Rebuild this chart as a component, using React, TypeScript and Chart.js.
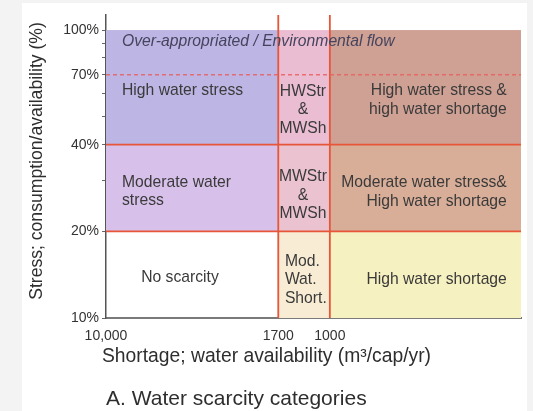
import React, { useEffect, useRef } from 'react';
import { Chart, registerables } from 'chart.js';

Chart.register(...registerables);

// ---- data ----
const xBreaks = [10000, 1700, 1000, 140]; // water availability boundaries (m3/cap/yr)
const yBreaks = [10, 20, 40, 100]; // consumption/availability boundaries (%)
const yTop = 112.8;
const xTickValues = [10000, 1700, 1000];
const xTickLabels = ['10,000', '1700', '1000'];
const yTickValues = [10, 20, 30, 40, 50, 60, 70, 80, 90, 100];
const yTickLabels = ['10%', '20%', '', '40%', '', '', '70%', '', '', '100%'];
const stressLines = [20, 40];
const overAppropriatedLine = 70;
const shortageLines = [1700, 1000];

// ---- styles ----
const cellColors: (string | null)[][] = [
  [null, '#f8ecd4', '#f6f1c0'], // 10-20 %
  ['#d7c1ea', '#ebc3d0', '#d9ae98'], // 20-40 %
  ['#bdb5e3', '#eabdd2', '#cfa194'], // 40-100 %
];
const RED = 'rgb(232,86,58)';
const TEXT = '#3a3a3a';

type Label = { lines: string[]; x: number; y: number; align: CanvasTextAlign; italic?: boolean };
const regionLabels: Label[] = [
  { lines: ['Over-appropriated / Environmental flow'], x: 8480, y: 90.8, align: 'left', italic: true },
  { lines: ['High water stress'], x: 8480, y: 61.4, align: 'left' },
  { lines: ['HWStr', '&', 'MWSh'], x: 1319, y: 52.7, align: 'center' },
  { lines: ['High water stress &', 'high water shortage'], x: 162, y: 57.1, align: 'right' },
  { lines: ['Moderate water', 'stress'], x: 8480, y: 27.5, align: 'left' },
  { lines: ['MWStr', '&', 'MWSh'], x: 1319, y: 26.7, align: 'center' },
  { lines: ['Moderate water stress&', 'High water shortage'], x: 162, y: 27.4, align: 'right' },
  { lines: ['No scarcity'], x: 4673, y: 13.8, align: 'center' },
  { lines: ['Mod.', 'Wat.', 'Short.'], x: 1588, y: 13.55, align: 'left' },
  { lines: ['High water shortage'], x: 162, y: 13.55, align: 'right' },
];

const FONT = '"Liberation Sans", Arial, Helvetica, sans-serif';

const cellsPlugin = {
  id: 'cells',
  beforeDatasetsDraw(chart: any) {
    const { ctx, scales } = chart;
    const xs = scales.x, ys = scales.y;
    ctx.save();
    for (let r = 0; r < yBreaks.length - 1; r++) {
      for (let c = 0; c < xBreaks.length - 1; c++) {
        const color = cellColors[r][c];
        if (!color) continue;
        const x0 = xs.getPixelForValue(xBreaks[c]);
        const x1 = xs.getPixelForValue(xBreaks[c + 1]);
        const y0 = ys.getPixelForValue(yBreaks[r]);
        const y1 = ys.getPixelForValue(yBreaks[r + 1]);
        ctx.fillStyle = color;
        ctx.fillRect(Math.min(x0, x1), Math.min(y0, y1), Math.abs(x1 - x0), Math.abs(y1 - y0));
      }
    }
    ctx.restore();
  },
  afterDatasetsDraw(chart: any) {
    const { ctx, scales } = chart;
    const xs = scales.x, ys = scales.y;
    ctx.save();
    ctx.textBaseline = 'middle';
    const lh = 18.5;
    for (const l of regionLabels) {
      ctx.font = `${l.italic ? 'italic ' : ''}15.7px ${FONT}`;
      ctx.fillStyle = l.italic ? '#45445e' : TEXT;
      ctx.textAlign = l.align;
      const px = xs.getPixelForValue(l.x);
      const py = ys.getPixelForValue(l.y);
      const start = py - ((l.lines.length - 1) * lh) / 2;
      l.lines.forEach((t, i) => ctx.fillText(t, px, start + i * lh));
    }
    ctx.restore();
  },
  afterDraw(chart: any) {
    const { ctx, chartArea } = chart;
    ctx.save();
    ctx.fillStyle = '#2e2e2e';
    ctx.textBaseline = 'middle';
    // y title
    ctx.save();
    ctx.translate(37, 161);
    ctx.rotate(-Math.PI / 2);
    ctx.textAlign = 'center';
    ctx.font = `17.6px ${FONT}`;
    ctx.fillText('Stress; consumption/availability (%)', 0, 0);
    ctx.restore();
    // x title
    ctx.textAlign = 'left';
    ctx.font = `19.3px ${FONT}`;
    ctx.fillText('Shortage; water availability (m\u00B3/cap/yr)', chartArea.left - 4, 357);
    // caption
    ctx.font = `21px ${FONT}`;
    ctx.fillText('A. Water scarcity categories', chartArea.left, 399);
    ctx.restore();
  },
};

export default function App() {
  const ref = useRef<HTMLCanvasElement>(null);

  useEffect(() => {
    const prevMargin = document.body.style.margin;
    document.body.style.margin = '0';
    const xMin = xBreaks[xBreaks.length - 1];
    const xMax = xBreaks[0];
    const lineDs = (pts: { x: number; y: number }[], extra: any = {}) => ({
      data: pts,
      showLine: true,
      borderColor: RED,
      borderWidth: 1.8,
      pointRadius: 0,
      fill: false,
      ...extra,
    });
    const datasets: any[] = [
      lineDs(
        [
          { x: xMax, y: overAppropriatedLine },
          { x: xMin, y: overAppropriatedLine },
        ],
        { borderColor: 'rgba(232,96,96,0.85)', borderDash: [4, 3], borderWidth: 1.5 }
      ),
      ...stressLines.map((v) =>
        lineDs([
          { x: xMax, y: v },
          { x: xMin, y: v },
        ])
      ),
      ...shortageLines.map((v) =>
        lineDs([
          { x: v, y: yBreaks[0] },
          { x: v, y: yTop },
        ])
      ),
    ];

    const chart = new Chart(ref.current!, {
      type: 'scatter',
      data: { datasets },
      plugins: [cellsPlugin],
      options: {
        responsive: false,
        animation: false,
        devicePixelRatio: 1,
        layout: { padding: { left: 0, top: 15, right: 12, bottom: 0 } },
        plugins: { legend: { display: false }, tooltip: { enabled: false } },
        scales: {
          x: {
            type: 'logarithmic',
            reverse: true,
            min: xMin,
            max: xMax,
            afterBuildTicks: (s: any) => {
              s.ticks = xTickValues.map((v) => ({ value: v }));
            },
            afterFit: (s: any) => {
              s.height = 93;
            },
            ticks: {
              autoSkip: false,
              maxRotation: 0,
              padding: 10,
              color: '#333',
              font: { family: FONT, size: 14 },
              callback: (_v: any, i: number) => xTickLabels[i],
            },
            grid: { display: false, drawTicks: false },
            border: { display: true, color: '#7a7a7a', width: 2 },
          },
          y: {
            type: 'logarithmic',
            min: yBreaks[0],
            max: yTop,
            afterBuildTicks: (s: any) => {
              s.ticks = yTickValues.map((v) => ({ value: v }));
            },
            afterFit: (s: any) => {
              s.width = 106;
            },
            ticks: {
              autoSkip: false,
              padding: 3,
              color: '#333',
              font: { family: FONT, size: 14 },
              callback: (_v: any, i: number) => yTickLabels[i],
            },
            grid: { display: true, drawOnChartArea: false, drawTicks: true, tickLength: 4, color: '#666', lineWidth: 1 },
            border: { display: true, color: '#555', width: 1.5 },
          },
        },
      },
    });
    return () => {
      chart.destroy();
      document.body.style.margin = prevMargin;
    };
  }, []);

  return (
    <div style={{ position: 'relative', width: 533, height: 411, background: '#f3f3f3', overflow: 'hidden' }}>
      <div style={{ position: 'absolute', left: 22, top: 3, width: 505, height: 408, background: '#ffffff' }} />
      <canvas ref={ref} width={533} height={411} style={{ position: 'absolute', left: 0, top: 0, width: 533, height: 411 }} />
    </div>
  );
}
